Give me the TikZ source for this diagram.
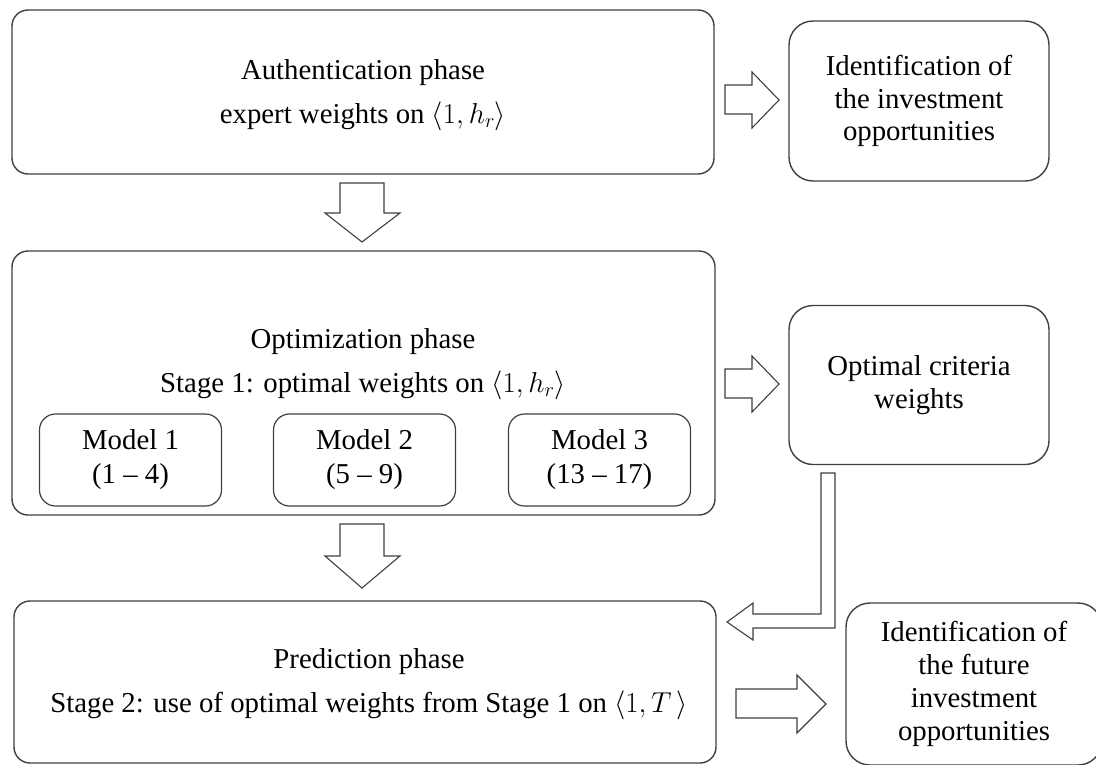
\RequirePackage{fix-cm}
\documentclass[tikz,border=0pt]{standalone}
\usepackage{fontspec}
\setmainfont{Liberation Serif}
\definecolor{edge}{HTML}{404040}
\tikzset{
  box/.style={draw=edge, line width=1.4pt, rounded corners=16pt, fill=white, inner sep=0pt},
  sidebox/.style={draw=edge, line width=1.4pt, rounded corners=24pt, fill=white, inner sep=0pt, align=center, font=\fontsize{28.8}{32.8}\selectfont},
  modelbox/.style={draw=edge, line width=1.2pt, rounded corners=16pt, fill=white, inner sep=0pt, align=center, minimum width=182pt, minimum height=92pt, font=\fontsize{28.8}{37}\selectfont},
  txt/.style={align=center, inner sep=0pt, font=\fontsize{28.8}{43.5}\selectfont},
  blockarrow/.style={draw=edge, line width=1.1pt, fill=white, line join=miter},
}
\begin{document}
\begin{tikzpicture}[x=1pt,y=-1pt]
\useasboundingbox (0,0) rectangle (1096,764);
\clip (0,0) rectangle (1096,764);

% main phase boxes
\node[box, minimum width=702pt, minimum height=164pt] (auth) at (363,92) {};
\node[txt] (authtxt) at (363,95) {Authentication phase\\expert weights on $\langle 1, h_r\rangle$};

\node[box, minimum width=703pt, minimum height=264pt] (opt) at (363.5,383) {};
\node[txt] (opttxt) at (363,364) {Optimization phase\\Stage 1: optimal weights on $\langle 1, h_r\rangle$};
\node[modelbox] (m1) at (130.5,460) {\raisebox{-3pt}{Model 1}\\(1 -- 4)};
\node[modelbox] (m2) at (364.5,460) {\raisebox{-3pt}{Model 2}\\(5 -- 9)};
\node[modelbox] (m3) at (599.5,460) {\raisebox{-3pt}{Model 3}\\(13 -- 17)};

\node[box, minimum width=702pt, minimum height=162pt] (pred) at (365,682) {};
\node[txt] (predtxt) at (369,684) {Prediction phase\\Stage 2: use of optimal weights from Stage 1 on $\langle 1, T\,\rangle$};

% side boxes
\node[sidebox, minimum width=260pt, minimum height=160pt] (r1) at (919,101) {Identification of\\the investment\\opportunities};
\node[sidebox, minimum width=260pt, minimum height=159pt] (r2) at (919,385) {Optimal criteria\\weights};
\node[sidebox, minimum width=256pt, minimum height=162pt] (r3) at (974,684) {Identification of\\the future\\investment\\opportunities};

% block arrows
% auth -> r1
\draw[blockarrow] (725,85) -- (752,85) -- (752,72) -- (779,100) -- (752,128) -- (752,114) -- (725,114) -- cycle;
% auth -> opt
\draw[blockarrow] (340,183) -- (384,183) -- (384,213) -- (400,213) -- (362,242) -- (325,213) -- (340,213) -- cycle;
% opt -> r2
\draw[blockarrow] (725,369) -- (752,369) -- (752,356) -- (779,384) -- (752,412) -- (752,398) -- (725,398) -- cycle;
% opt -> pred
\draw[blockarrow] (340,524) -- (384,524) -- (384,556) -- (400,556) -- (362,588) -- (325,556) -- (340,556) -- cycle;
% r2 -> pred (elbow)
\draw[blockarrow] (821,473) -- (835,473) -- (835,628) -- (753,628) -- (753,640) -- (727,622) -- (753,603) -- (753,614) -- (821,614) -- cycle;
% pred -> r3
\draw[blockarrow] (736,689) -- (797,689) -- (797,675) -- (826,704) -- (797,733) -- (797,718) -- (736,718) -- cycle;
\end{tikzpicture}
\end{document}
